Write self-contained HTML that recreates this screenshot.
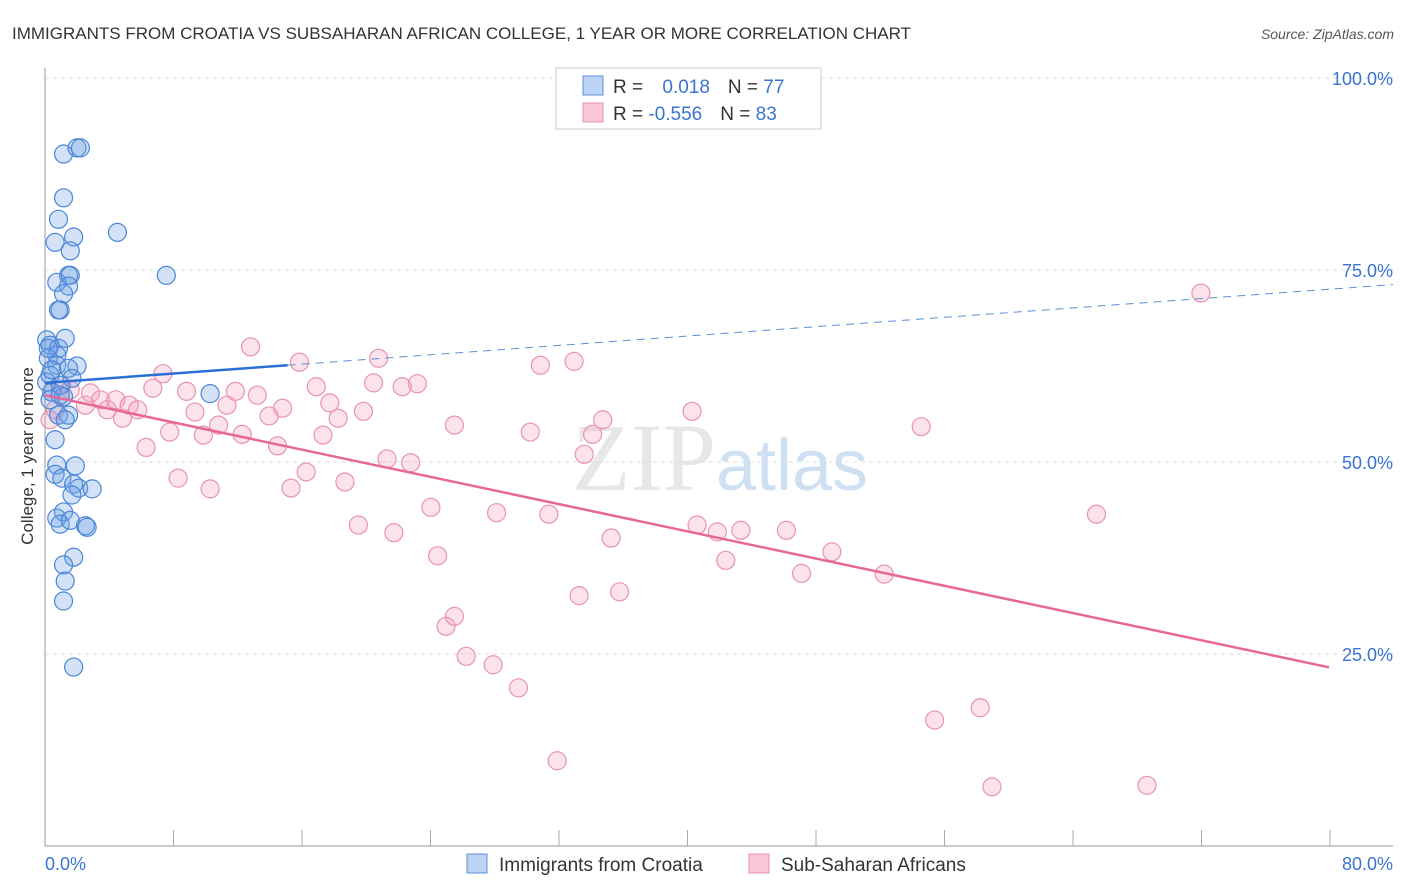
<!DOCTYPE html>
<html><head><meta charset="utf-8"><style>
body{margin:0;background:#fff;font-family:"Liberation Sans",sans-serif}
svg{display:block}
</style></head><body>
<svg id="chart" width="1406" height="892" xmlns="http://www.w3.org/2000/svg">
<text x="12" y="39" font-size="17" fill="#333">IMMIGRANTS FROM CROATIA VS SUBSAHARAN AFRICAN COLLEGE, 1 YEAR OR MORE CORRELATION CHART</text>
<text x="1394" y="39" font-size="14" fill="#555" text-anchor="end" font-style="italic">Source: ZipAtlas.com</text>
<text x="720" y="490" font-size="96" text-anchor="middle" fill="#ddd" font-family="Liberation Serif,serif" opacity="0.7">ZIP<tspan fill="#bcd3ee" font-family="Liberation Sans,sans-serif" font-size="72">atlas</tspan></text>
<text transform="translate(33,456) rotate(-90)" font-size="17" fill="#333" text-anchor="middle">College, 1 year or more</text>
<g id="grid"></g><g id="ticks"></g>
<line x1="45" y1="846" x2="1393" y2="846" stroke="#999"/>
<line x1="45" y1="68" x2="45" y2="846" stroke="#999"/>
<g id="pink"></g><g id="blue"></g><g id="lines"></g>
<g>
<rect x="556" y="68" width="265" height="61" fill="#fff" stroke="#ccc"/>
<rect x="583" y="76" width="20" height="19" fill="#bcd3f5" stroke="#5b8fd8"/>
<rect x="583" y="103" width="20" height="19" fill="#f9c6d6" stroke="#e893b0"/>
<text x="613" y="93" font-size="19" fill="#333">R = <tspan fill="#3a74d0" dx="14">0.018</tspan><tspan dx="18" fill="#333">N = </tspan><tspan fill="#3a74d0">77</tspan></text>
<text x="613" y="120" font-size="19" fill="#333">R = <tspan fill="#3a74d0">-0.556</tspan><tspan dx="18" fill="#333">N = </tspan><tspan fill="#3a74d0">83</tspan></text>
</g>
<g>
<rect x="467" y="854" width="20" height="19" fill="#bcd3f5" stroke="#5b8fd8"/>
<text x="499" y="871" font-size="19" fill="#333">Immigrants from Croatia</text>
<rect x="749" y="854" width="20" height="19" fill="#f9c6d6" stroke="#e893b0"/>
<text x="781" y="871" font-size="19" fill="#333">Sub-Saharan Africans</text>
</g>
<text x="45" y="870" font-size="18" fill="#3a74d0">0.0%</text>
<text x="1393" y="870" font-size="18" fill="#3a74d0" text-anchor="end">80.0%</text>
</svg>
<script>
const yTicks=[100,75,50,25];
const yTickLabels=["100.0%","75.0%","50.0%","25.0%"];
const blueX=[1.1,1.9,2.1,1.1,0.8,0.6,1.7,1.5,4.3,7.2,1.4,1.5,0.7,1.4,1.1,0.9,0.8,0.1,1.2,0.3,0.8,0.7,0.2,0.7,1.9,1.4,0.3,1.6,0.1,0.9,0.4,1.1,9.8,0.3,0.8,1.4,1.2,0.6,0.7,1.8,0.6,1.0,1.7,2.0,2.8,1.6,1.1,0.7,0.9,1.5,2.4,2.5,1.7,1.1,1.2,1.1,1.7,0.2,0.4,0.9];
const blueY=[90.1,90.9,90.9,84.4,81.6,78.6,79.3,77.5,79.9,74.3,74.3,74.3,73.4,72.9,71.9,69.8,69.8,65.9,66.1,65.2,64.8,63.9,63.5,62.6,62.5,62.2,61.3,60.9,60.4,60.0,59.1,58.5,58.9,58.1,56.1,56.1,55.5,52.9,49.6,49.5,48.4,47.9,47.1,46.6,46.5,45.7,43.5,42.7,41.9,42.4,41.7,41.5,37.6,36.6,34.5,31.9,23.3,64.8,62.0,58.7];
const pinkX=[0.4,1.0,1.5,2.4,2.7,3.3,3.7,4.2,4.6,5.0,5.5,6.0,6.4,7.0,7.4,7.9,8.4,8.9,9.4,9.8,10.3,10.8,11.3,11.7,12.2,12.6,13.3,13.8,14.1,14.6,15.1,15.5,16.1,16.5,16.9,17.4,17.8,18.6,18.9,19.5,19.8,20.3,20.7,21.2,21.7,22.1,22.9,23.3,23.8,24.3,24.3,25.0,26.6,26.8,28.1,28.8,29.4,29.9,30.4,31.7,32.0,32.5,33.1,33.6,34.1,31.4,38.4,38.7,39.9,40.4,41.3,44.0,44.9,46.7,49.8,52.0,52.8,55.5,56.2,62.4,65.4,68.6,0.3,0.6];
const pinkY=[59.1,60.0,59.4,57.4,59.0,58.1,56.8,58.1,55.7,57.4,56.8,51.9,59.6,61.5,53.9,47.9,59.2,56.5,53.5,46.5,54.8,57.4,59.2,53.6,65.0,58.7,56.0,52.1,57.0,46.6,63.0,48.7,59.8,53.5,57.7,55.7,47.4,41.8,56.6,60.3,63.5,50.4,40.8,59.8,49.9,60.2,44.1,37.8,28.6,29.9,54.8,24.7,23.6,43.4,20.6,53.9,62.6,43.2,11.1,32.6,51.0,53.6,55.5,40.1,33.1,63.1,56.6,41.8,40.9,37.2,41.1,41.1,35.5,38.3,35.4,54.6,16.4,18.0,7.7,43.2,7.9,72.0,55.5,56.8];
const blueTrend=[60.3,0.16]; const pinkTrend=[58.7,-0.465];
const NS="http://www.w3.org/2000/svg";
const sx=v=>45+v*1348/80, sy=v=>846-v*7.68;
function mk(tag,attrs,parent){const e=document.createElementNS(NS,tag);for(const k in attrs)e.setAttribute(k,attrs[k]);document.getElementById(parent).appendChild(e);return e;}
yTicks.forEach((t,i)=>{
 const g=mk('line',{x1:45,x2:1393,y1:sy(t),y2:sy(t),stroke:'#ddd','stroke-dasharray':'4,4'},'grid');
 
 
 const l=mk('text',{x:1393,y:sy(t)+7,'font-size':18,fill:'#3a74d0','text-anchor':'end'},'grid');
 l.textContent=yTickLabels[i];
 
 
});
for(let i=0;i<=10;i++){const x=45+i*128.5;
 const t=mk('line',{x1:x,x2:x,y1:830,y2:846,stroke:'#aaa'},'ticks');
 
 
}
pinkX.forEach((v,i)=>{const c=mk('circle',{cx:sx(v),cy:sy(pinkY[i]),r:9,fill:'rgba(244,160,190,0.3)',stroke:'#e893b0','stroke-width':1.2},'pink');
 
 });
blueX.forEach((v,i)=>{const c=mk('circle',{cx:sx(v),cy:sy(blueY[i]),r:9,fill:'rgba(110,160,230,0.3)',stroke:'#4a86d8','stroke-width':1.2},'blue');
 
 });
const f=(tr,x)=>tr[0]+tr[1]*x;
let l1=mk('line',{x1:sx(0),y1:sy(f(blueTrend,0)),x2:sx(14.4),y2:sy(f(blueTrend,14.4)),stroke:'#2a6fd6','stroke-width':2.5},'lines');


let l2=mk('line',{x1:sx(14.4),y1:sy(f(blueTrend,14.4)),x2:sx(80),y2:sy(f(blueTrend,80)),stroke:'#5b8fd8','stroke-width':1,'stroke-dasharray':'8,6'},'lines');


let l3=mk('line',{x1:sx(0),y1:sy(f(pinkTrend,0)),x2:sx(76.2),y2:sy(f(pinkTrend,76.2)),stroke:'#e8679a','stroke-width':2.5},'lines');


</script>
</body></html>
